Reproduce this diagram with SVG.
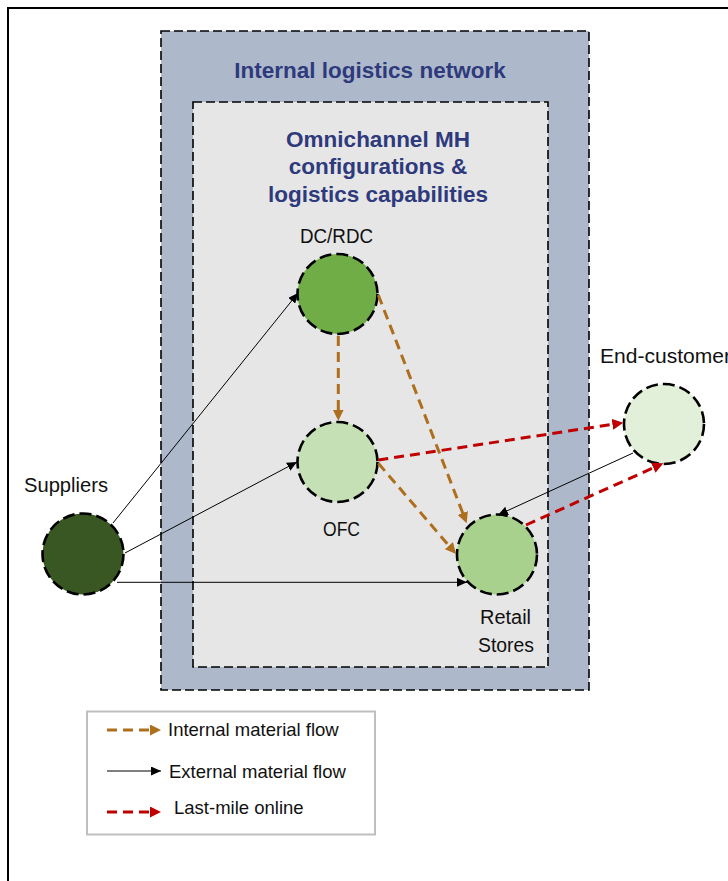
<svg xmlns="http://www.w3.org/2000/svg" width="728" height="881" viewBox="0 0 728 881">
<style>
.frame{fill:none;stroke:#000;stroke-width:2}
.box{stroke:#000;stroke-width:1.6;stroke-dasharray:9 4}
.title{font-family:"Liberation Sans",Arial,sans-serif;font-weight:bold;font-size:22.5px;fill:#2E3A7C;text-anchor:middle}
.node{stroke:#000;stroke-width:2.6;stroke-dasharray:12 5}
.lbl{font-family:"Liberation Sans",Arial,sans-serif;font-size:19.5px;fill:#111}
.ext{stroke:#000;stroke-width:1;fill:none}
.int{stroke:#AD6F1E;stroke-width:3;stroke-dasharray:10 6;fill:none}
.lm{stroke:#C00000;stroke-width:3;stroke-dasharray:10 6;fill:none}
.leg{font-family:"Liberation Sans",Arial,sans-serif;font-size:18.5px;fill:#111}
</style>
<defs>
<marker id="aB" markerUnits="userSpaceOnUse" markerWidth="11" markerHeight="9" refX="10" refY="4.5" orient="auto"><path d="M0,0 L10,4.5 L0,9 z" fill="#000"/></marker>
<marker id="aBr" markerUnits="userSpaceOnUse" markerWidth="12" markerHeight="11" refX="3" refY="5.5" orient="auto"><path d="M0,0 L11,5.5 L0,11 z" fill="#AD6F1E"/></marker>
<marker id="aR" markerUnits="userSpaceOnUse" markerWidth="12" markerHeight="11" refX="3" refY="5.5" orient="auto"><path d="M0,0 L11,5.5 L0,11 z" fill="#C00000"/></marker>
</defs>
<rect x="0" y="0" width="728" height="881" fill="#fff"/>
<path class="frame" d="M8,881 V8 H728"/>

<g id="internal-network">
<rect class="box" x="161" y="31" width="428" height="659" fill="#ADB9CA"/>
<text class="title" x="370" y="78">Internal logistics network</text>
</g>
<g id="omnichannel">
<rect class="box" x="193" y="102" width="355" height="565" fill="#E6E6E6"/>
<text class="title" x="378" y="147">Omnichannel MH</text>
<text class="title" x="378" y="174">configurations &amp;</text>
<text class="title" x="378" y="202">logistics capabilities</text>
</g>

<g id="dc-rdc">
<circle class="node" cx="337.5" cy="294" r="40" fill="#70AD47"/>
<text class="lbl" x="300" y="243" textLength="73" lengthAdjust="spacingAndGlyphs">DC/RDC</text>
</g>
<g id="ofc">
<circle class="node" cx="337.5" cy="462" r="40" fill="#C5E0B4"/>
<text class="lbl" x="323" y="536" textLength="37" lengthAdjust="spacingAndGlyphs">OFC</text>
</g>
<g id="retail-stores">
<circle class="node" cx="497" cy="554.5" r="40" fill="#A9D18E"/>
<text class="lbl" x="480" y="624" textLength="51" lengthAdjust="spacingAndGlyphs">Retail</text>
<text class="lbl" x="478" y="652" textLength="56" lengthAdjust="spacingAndGlyphs">Stores</text>
</g>
<g id="end-customer">
<circle class="node" cx="664" cy="424" r="40" fill="#E2F0D9"/>
<text class="lbl" x="600" y="363" textLength="131" lengthAdjust="spacingAndGlyphs">End-customer</text>
</g>
<g id="suppliers">
<circle class="node" cx="83" cy="554" r="40.5" fill="#385723"/>
<text class="lbl" x="24" y="492" textLength="84" lengthAdjust="spacingAndGlyphs">Suppliers</text>
</g>

<g id="connectors">
<line class="ext" x1="113" y1="523" x2="298" y2="293" marker-end="url(#aB)"/>
<line class="ext" x1="125" y1="553" x2="297" y2="462" marker-end="url(#aB)"/>
<line class="ext" x1="117" y1="582.3" x2="467" y2="582.3" marker-end="url(#aB)"/>
<line class="ext" x1="633" y1="453" x2="498" y2="515" marker-end="url(#aB)"/>
<line class="int" x1="338.3" y1="336" x2="338.3" y2="412.7" marker-end="url(#aBr)"/>
<line class="int" x1="378.3" y1="295" x2="463.8" y2="515.8" marker-end="url(#aBr)"/>
<line class="int" x1="378.3" y1="463.3" x2="450.8" y2="547.9" marker-end="url(#aBr)"/>
<line class="lm" x1="378.3" y1="460" x2="615.4" y2="423.9" marker-end="url(#aR)"/>
<line class="lm" x1="526" y1="525" x2="656" y2="466.6" marker-end="url(#aR)"/>
</g>

<g id="legend">
<rect x="87" y="711.5" width="288" height="123" fill="#fff" stroke="#BFBFBF" stroke-width="2"/>
<line class="int" x1="107" y1="730" x2="153" y2="730" stroke-dasharray="9 6" marker-end="url(#aBr)"/>
<text class="leg" x="168" y="736">Internal material flow</text>
<line class="ext" x1="107" y1="771" x2="161" y2="771" marker-end="url(#aB)"/>
<text class="leg" x="169" y="778">External material flow</text>
<line class="lm" x1="107" y1="812" x2="153" y2="812" stroke-dasharray="9 6" marker-end="url(#aR)"/>
<text class="leg" x="174" y="814">Last-mile online</text>
</g>
</svg>
